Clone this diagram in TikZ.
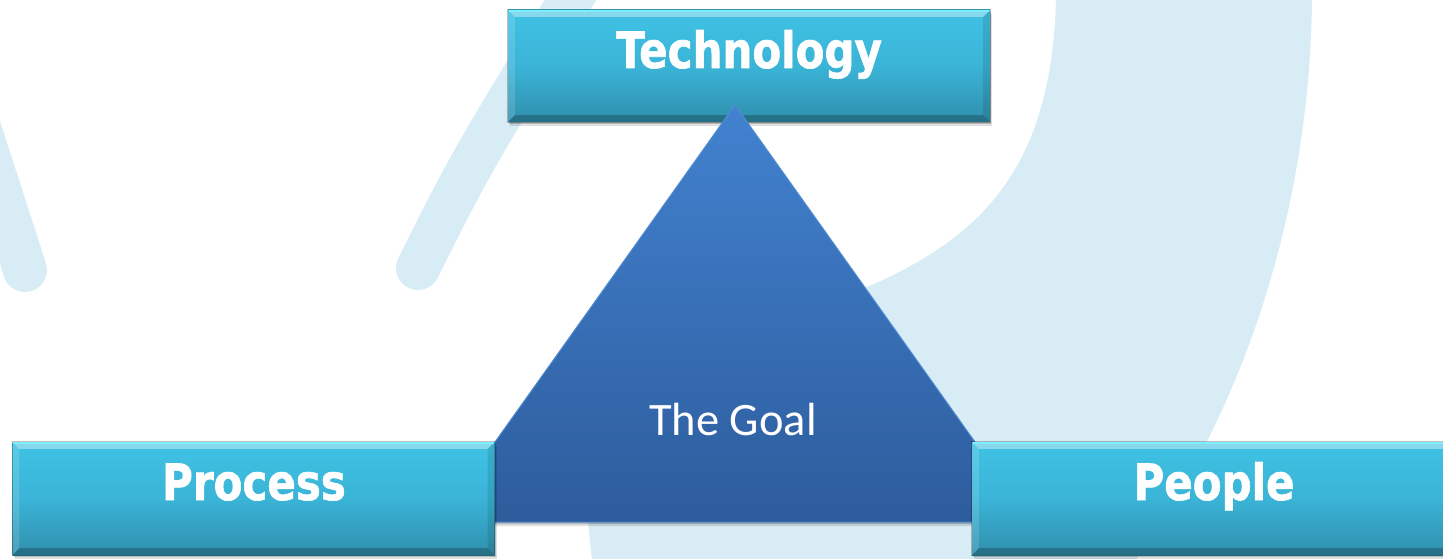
\documentclass[tikz,border=0pt]{standalone}
\usepackage{fontspec}
\setmainfont{Carlito}
\newfontfamily\boxfont[FakeStretch=0.84,BoldFeatures={FakeBold=1.2}]{DejaVu Sans}
\usetikzlibrary{calc,shadows}
\definecolor{bandc}{RGB}{216,236,245}
\definecolor{boxTop}{RGB}{64,194,228}
\definecolor{boxMid}{RGB}{58,180,215}
\definecolor{boxBot}{RGB}{48,143,173}
\definecolor{triTop}{RGB}{66,130,208}
\definecolor{triBot}{RGB}{45,92,156}
\definecolor{triEdge}{RGB}{80,140,210}
\definecolor{hiLine}{RGB}{125,238,252}
\newcommand\bevelit[1]{%
  \fill[white,opacity=0.38] (#1.north west) -- (#1.north east) -- ($(#1.north east)+(-7,7)$) -- ($(#1.north west)+(7,7)$) -- cycle;
  \fill[white,opacity=0.14] (#1.north west) -- ($(#1.north west)+(7,7)$) -- ($(#1.south west)+(7,-7)$) -- (#1.south west) -- cycle;
  \fill[black,opacity=0.10] (#1.north east) -- ($(#1.north east)+(-7,7)$) -- ($(#1.south east)+(-7,-7)$) -- (#1.south east) -- cycle;
  \fill[black,opacity=0.22] (#1.south west) -- ($(#1.south west)+(7,-7)$) -- ($(#1.south east)+(-7,-7)$) -- (#1.south east) -- cycle;
  \draw[hiLine,line width=1.6pt] ($(#1.north west)+(1,1)$) -- ($(#1.north east)+(-1,1)$);
  \draw[black,opacity=0.25,line width=0.8pt] (#1.north west) rectangle (#1.south east);
}
\tikzset{
  softshadow/.style={
    drop shadow={shadow xshift=1pt,shadow yshift=-2pt,fill=black,opacity=0.18},
    drop shadow={shadow xshift=2pt,shadow yshift=-4pt,fill=black,opacity=0.12}},
  cbox/.style={rectangle,inner sep=0pt,minimum width=482pt,minimum height=#1,
    top color=boxTop,bottom color=boxBot,middle color=boxMid,softshadow},
  lbl/.style={font=\boxfont\bfseries\fontsize{50}{50}\selectfont,text=white,anchor=base,inner sep=0pt},
  goal/.style={font=\fontsize{46.5}{46.5}\selectfont,text=white,anchor=base,inner sep=0pt},
  band/.style={bandc,line cap=round}
}
\begin{document}
\begin{tikzpicture}[x=1pt,y=-1pt]
\useasboundingbox (0,0) rectangle (1443,559);
\clip (0,0) rectangle (1443,559);
\fill[white] (0,0) rectangle (1443,559);
% background watermark
\fill[bandc] (1056,-2) -- (1312,-2) .. controls (1310,200) and (1250,400) .. (1135,561)
  -- (592,561) -- (588,520) .. controls (600,400) and (720,350) .. (860,290)
  .. controls (980,240) and (1052,170) .. (1056,-2) -- cycle;
\draw[band,line width=44pt] (-80,-55) -- (25,270);
\draw[band,line width=44pt] (595,-40) .. controls (472,160) .. (418,268);
% technology box (behind triangle apex)
\node[cbox=112pt] (tech) at (749,66) {};
\bevelit{tech}
\node[lbl] (techlbl) at (749,68) {Technology};
% triangle
\coordinate (apex) at (735,105);
\coordinate (bl) at (438,522);
\coordinate (br) at (1032,522);
\path[top color=triTop,bottom color=triBot,draw=triEdge,line width=1pt,softshadow] (apex) -- (bl) -- (br) -- cycle;
\node[goal] (goallbl) at (733,435) {The Goal};
% process and people boxes
\node[cbox=113pt] (proc) at (253.5,498.5) {};
\bevelit{proc}
\node[lbl] (proclbl) at (254,500) {Process};
\node[cbox=113pt] (peop) at (1213,498.5) {};
\bevelit{peop}
\node[lbl] (peoplbl) at (1214,500) {People};
\end{tikzpicture}
\end{document}
